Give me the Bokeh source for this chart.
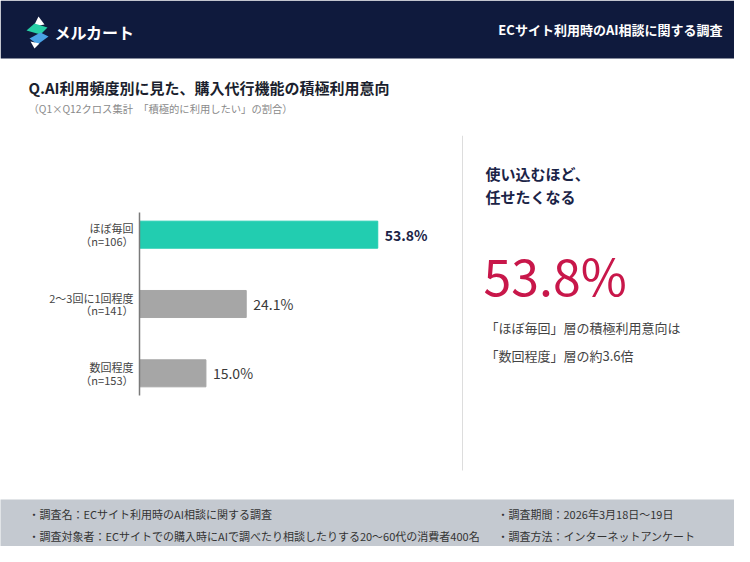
from bokeh.plotting import figure
from bokeh.layouts import column, row
from bokeh.models import Range1d, FixedTicker, ColumnDataSource
from bokeh.core.properties import value
from bokeh.embed import file_html
from bokeh.resources import INLINE

# ---------------- data ----------------
categories = ["ほぼ毎回", "2〜3回に1回程度", "数回程度"]
sample_sizes = [106, 141, 153]
values = [53.8, 24.1, 15.0]

header_title = "ECサイト利用時のAI相談に関する調査"
brand = "メルカート"
chart_title = "Q.AI利用頻度別に見た、購入代行機能の積極利用意向"
chart_subtitle = "（Q1×Q12クロス集計　「積極的に利用したい」の割合）"
headline = ["使い込むほど、", "任せたくなる"]
footer_left = ["・調査名：ECサイト利用時のAI相談に関する調査",
               "・調査対象者：ECサイトでの購入時にAIで調べたり相談したりする20〜60代の消費者400名"]
footer_right = ["・調査期間：2026年3月18日〜19日",
                "・調査方法：インターネットアンケート"]

FONT = "Noto Sans CJK JP"
NAVY = "#0F1A3D"
TEAL = "#22CDB0"
GRAY_BAR = "#A6A6A6"
CRIMSON = "#C8174A"
FOOT_BG = "#C4C9D0"


def deco_fig(w, h, x0, x1, y0, y1, bg="white"):
    f = figure(width=w, height=h, x_range=Range1d(x0, x1), y_range=Range1d(y1, y0),
               x_axis_location=None, y_axis_location=None, toolbar_location=None,
               output_backend="svg", min_border=0, outline_line_color=None,
               background_fill_color=bg, border_fill_color=bg)
    f.xgrid.visible = False
    f.ygrid.visible = False
    f.frame_align = False
    return f


# ---------------- top (header + title) ----------------
top = deco_fig(734, 135, 0, 734, 0, 135)
top.quad(left=[0], right=[750], top=[0], bottom=[58], fill_color=NAVY, line_color=None)
# logo icon
top.patch([33, 38, 44], [26, 16, 24], fill_color="white", line_color=None)
top.patch([26, 34, 47, 40], [30, 23, 27, 34], fill_color="#27CFA6", line_color=None)
top.patch([29, 40, 48, 37], [38, 32, 36, 44], fill_color="#4AA3E6", line_color=None)
top.patch([30, 34, 39], [41, 48, 43], fill_color="white", line_color=None)
top.text(x=[54], y=[31], text=[brand], text_font=value(FONT), text_font_style="bold",
         text_font_size="16px", text_color="white", text_baseline="middle", text_align="left")
top.text(x=[722], y=[29], text=[header_title], text_font=value(FONT), text_font_style="bold",
         text_font_size="13px", text_color="white", text_baseline="middle", text_align="right")
top.text(x=[28], y=[87], text=[chart_title], text_font=value(FONT), text_font_style="bold",
         text_font_size="15px", text_color="#1B1F2E", text_baseline="middle", text_align="left")
top.text(x=[28], y=[108], text=[chart_subtitle], text_font=value(FONT),
         text_font_size="10.3px", text_color="#8A8A8A", text_baseline="middle", text_align="left")

# ---------------- bar chart ----------------
ypos = list(range(len(categories)))
tick_labels = {i: f"{c}\n（n={n}）" for i, (c, n) in enumerate(zip(categories, sample_sizes))}
bar_colors = [TEAL] + [GRAY_BAR] * (len(values) - 1)
label_colors = ["#1B2447"] + ["#3A3A3A"] * (len(values) - 1)
label_styles = ["bold"] + ["normal"] * (len(values) - 1)

src = ColumnDataSource(dict(y=ypos, v=values, color=bar_colors,
                            label=[f"{v:.1f}%" for v in values],
                            lcolor=label_colors, lstyle=label_styles))

bars = figure(width=461, height=364, x_range=Range1d(0, 70), y_range=Range1d(2.32, -0.32),
              x_axis_location=None, toolbar_location=None, output_backend="svg",
              min_border_left=139, min_border_right=12, min_border_top=77, min_border_bottom=104,
              outline_line_color=None, background_fill_color="white", border_fill_color="white")
bars.frame_align = False
bars.xgrid.visible = False
bars.ygrid.visible = False
bars.hbar(y="y", right="v", left=0, height=0.39, fill_color="color", line_color="color",
          source=src)
bars.text(x="v", y="y", text="label", x_offset=7, text_font=value(FONT),
          text_font_size="14px", text_font_style="lstyle", text_color="lcolor",
          text_baseline="middle", text_align="left", source=src)
ax = bars.yaxis[0]
ax.ticker = FixedTicker(ticks=ypos)
ax.major_label_overrides = tick_labels
ax.axis_line_color = "#7A7A7A"
ax.axis_line_width = 1.5
ax.major_tick_line_color = None
ax.minor_tick_line_color = None
ax.major_label_standoff = 0
ax.major_label_text_font = FONT
ax.major_label_text_font_size = "11px"
ax.major_label_text_color = "#444444"
ax.major_label_text_line_height = 0.78

# ---------------- right panel ----------------
right = deco_fig(273, 364, 461, 734, 135, 499)
right.segment(x0=[462], y0=[135], x1=[462], y1=[470], line_color="#DDDDDD", line_width=1)
right.text(x=[485, 485], y=[173, 196], text=headline, text_font=value(FONT),
           text_font_style="bold", text_font_size="15px", text_color="#1B2447",
           text_baseline="middle", text_align="left")
right.text(x=[483], y=[273], text=[f"{values[0]:.1f}%"], text_font=value(FONT),
           text_font_size="50px", text_color=CRIMSON, text_baseline="alphabetic",
           text_align="left")
ratio = values[0] / values[-1]
right.text(x=[485, 485], y=[327, 355],
           text=[f"「{categories[0]}」層の積極利用意向は",
                 f"「{categories[-1]}」層の約{ratio:.1f}倍"],
           text_font=value(FONT), text_font_size="13px", text_color="#444444",
           text_baseline="middle", text_align="left")

# ---------------- footer ----------------
foot = deco_fig(734, 47, 0, 734, 499, 546, bg=FOOT_BG)
foot.text(x=[28, 28], y=[513, 535], text=footer_left, text_font=value(FONT),
          text_font_size="11px", text_color="#333333", text_baseline="middle", text_align="left")
foot.text(x=[497, 497], y=[513, 535], text=footer_right, text_font=value(FONT),
          text_font_size="11px", text_color="#333333", text_baseline="middle", text_align="left")

layout = column(top, row(bars, right, spacing=0), foot, spacing=0)
open("out.html", "w").write(file_html(layout, INLINE))
